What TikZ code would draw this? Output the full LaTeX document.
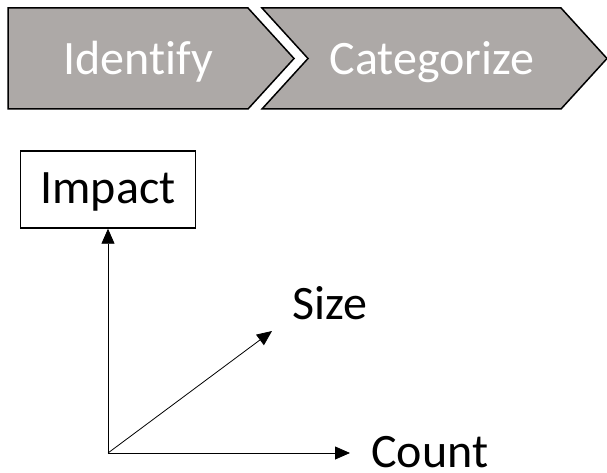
\documentclass[tikz,border=0pt]{standalone}
\usepackage{fontspec}
\setmainfont{Carlito}[Ligatures=NoCommon]
\usetikzlibrary{arrows.meta}
\definecolor{stepgray}{RGB}{173,169,167}
\tikzset{
  chevron/.style={fill=stepgray, draw=black, line width=1.5pt, line join=miter},
  steptext/.style={text=white, font=\fontsize{48}{52}\selectfont, inner sep=0pt, anchor=base},
  axislabel/.style={text=black, font=\fontsize{48}{52}\selectfont, inner sep=0pt, text depth=0pt, anchor=base west},
  axis/.style={draw=black, line width=0.8pt, -{Triangle[length=15pt,width=13pt]}},
  labelbox/.style={draw=black, line width=1.4pt, minimum width=175pt, inner sep=0pt,
    text height=53pt, text depth=24pt, font=\fontsize{48}{52}\selectfont}
}
\begin{document}
\begin{tikzpicture}[x=1pt,y=-1pt]
  \useasboundingbox (0,0) rectangle (607,473);
  % process chevrons
  \draw[chevron] (8,8) -- (248,8) -- (294,58.5) -- (248,109) -- (8,109) -- cycle;
  \draw[chevron] (262,8) -- (561,8) -- (607,58.5) -- (561,109) -- (262,109) -- (308,58.5) -- cycle;
  \node[steptext] (identify) at (138,75) {Identify};
  \node[steptext] (categorize) at (432,75) {Categorize};
  % axes
  \coordinate (origin) at (108,453);
  \node[labelbox, anchor=base] (impact) at (108,204) {Impact};
  \coordinate (sizetip) at (272,331);
  \coordinate (counttip) at (350,453);
  \node[axislabel] (size) at (292,319) {Size};
  \node[axislabel] (count) at (371,467) {Count};
  \draw[axis] (origin) -- (impact.south);
  \draw[axis] (origin) -- (sizetip);
  \draw[axis] (origin) -- (counttip);
\end{tikzpicture}
\end{document}
